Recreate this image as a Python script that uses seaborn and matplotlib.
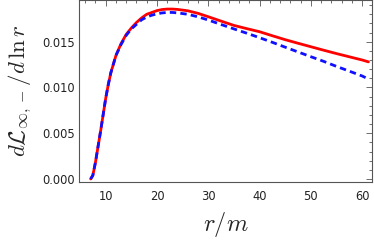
import numpy as np
import pandas as pd
import matplotlib
matplotlib.use("Agg")
import matplotlib.pyplot as plt
import seaborn as sns
from matplotlib.ticker import MultipleLocator, FormatStrFormatter

r_vals = [7.07, 7.5, 8.0, 8.5, 9.0, 9.5, 10.0, 10.5, 11.0, 12.0, 13.0, 14.0, 15.0,
          16.0, 17.0, 18.0, 19.0, 20.0, 21.0, 22.0, 23.0, 24.0, 26.0, 28.0, 30.0,
          32.5, 35.0, 37.5, 40.0, 42.5, 45.0, 47.5, 50.0, 52.5, 55.0, 57.5, 60.0, 61.2]
red_vals = [0.0000, 0.0004, 0.0018, 0.0035, 0.0052, 0.0070, 0.0088, 0.0103, 0.0116,
            0.0135, 0.0148, 0.0158, 0.0165, 0.0171, 0.0176, 0.0180, 0.0182, 0.01840,
            0.01852, 0.01857, 0.01857, 0.01853, 0.01838, 0.01810, 0.01773, 0.01725,
            0.01678, 0.01643, 0.01609, 0.01565, 0.01522, 0.01483, 0.01445, 0.01407,
            0.01370, 0.01335, 0.01300, 0.01280]
blue_vals = [0.0000, 0.0004, 0.0018, 0.0035, 0.0052, 0.0070, 0.0088, 0.0103, 0.0116,
             0.0135, 0.0147, 0.0157, 0.0164, 0.0169, 0.0174, 0.0177, 0.0179, 0.01805,
             0.01815, 0.01820, 0.01820, 0.01815, 0.01800, 0.01772, 0.01737, 0.01688,
             0.01640, 0.01593, 0.01544, 0.01493, 0.01440, 0.01388, 0.01336, 0.01285,
             0.01230, 0.01178, 0.01125, 0.01092]

df = pd.DataFrame({"r": r_vals, "red": red_vals, "blue": blue_vals})

sns.set_style("white")
plt.rcParams["mathtext.fontset"] = "cm"
plt.rcParams["font.family"] = ["DejaVu Sans"]

fig = plt.figure(figsize=(3.74, 2.46), dpi=100)
ax = fig.add_axes([79/374, 1 - 182/246, (372-79)/374, 182/246])

sns.lineplot(data=df, x="r", y="red", ax=ax, color="#ff0000", lw=2.0, sort=False)
sns.lineplot(data=df, x="r", y="blue", ax=ax, color="#1010ff", lw=2.0, sort=False,
             linestyle=(0, (2.3, 1.5)))

ax.set_xlim(4.8, 61.9)
ax.set_ylim(-0.00033, 0.01956)
ax.xaxis.set_major_locator(MultipleLocator(10))
ax.xaxis.set_minor_locator(MultipleLocator(2))
ax.yaxis.set_major_locator(MultipleLocator(0.005))
ax.yaxis.set_minor_locator(MultipleLocator(0.001))
ax.yaxis.set_major_formatter(FormatStrFormatter("%.3f"))
ax.tick_params(which="both", direction="in", top=True, right=True, color="#555555",
               labelsize=8.3, labelcolor="#222222", width=0.6)
ax.tick_params(axis="x", pad=6)
ax.tick_params(axis="y", pad=3)
ax.tick_params(which="major", length=4)
ax.tick_params(which="minor", length=2)
for s in ax.spines.values():
    s.set_color("#555555")
    s.set_linewidth(0.8)

ax.set_xlabel(r"$r/m$", fontsize=17.5, labelpad=5)
ax.set_ylabel(r"$d\mathcal{L}_{\infty,-}/d\,\ln r$", fontsize=16.5, labelpad=6)

fig.savefig("out.png", dpi=100)
